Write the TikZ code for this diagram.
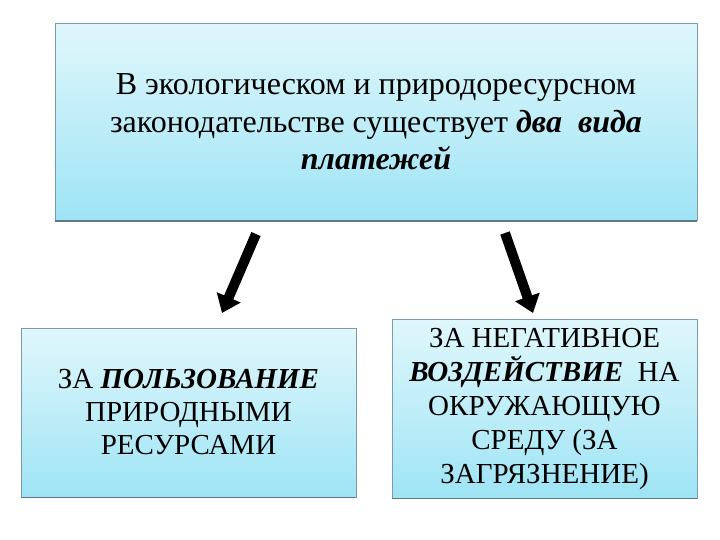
\documentclass[tikz,border=0pt]{standalone}
\usepackage{fontspec}
\setmainfont{Liberation Serif}
\usetikzlibrary{positioning,arrows.meta,calc}
\definecolor{boxtop}{RGB}{224,247,251}
\definecolor{boxbot}{RGB}{158,228,245}
\definecolor{boxline}{RGB}{125,155,168}
\definecolor{boxshade}{RGB}{95,120,130}

\begin{document}
\begin{tikzpicture}[x=1pt, y=-1pt,
  panel/.style={draw=boxline, line width=0.8pt, top color=boxtop, bottom color=boxbot, inner sep=0pt, align=center},
  arr/.style={-{Triangle[length=17pt, width=25pt]}, line width=10pt}
]
\useasboundingbox[fill=white] (0,0) rectangle (720,540);
% upper panel
\node[panel, minimum width=642pt, minimum height=197pt, font=\fontsize{32}{37.5}\selectfont] (law) at (376,122)
  {В экологическом и природоресурсном\\ законодательстве существует \textbf{\textit{два\ \ вида}}\\ \textbf{\textit{платежей}}};
\draw[boxshade, line width=1.6pt] (law.south west) -- (law.south east);
% lower panels
\node[panel, minimum width=335pt, minimum height=169pt, font=\fontsize{29}{33}\selectfont] (use) at (188.5,412.5)
  {ЗА \textbf{\textit{ПОЛЬЗОВАНИЕ}}\\ ПРИРОДНЫМИ\\ РЕСУРСАМИ};
\draw[boxshade, line width=1.6pt] (use.south west) -- (use.south east);
\node[panel, minimum width=305pt, minimum height=179pt, font=\fontsize{29}{34}\selectfont] (harm) at (544.5,408.5)
  {ЗА НЕГАТИВНОЕ\\ \textbf{\textit{ВОЗДЕЙСТВИЕ}}\ \ НА\\ ОКРУЖАЮЩУЮ\\ СРЕДУ (ЗА\\ ЗАГРЯЗНЕНИЕ)};
\draw[boxshade, line width=1.6pt] (harm.south west) -- (harm.south east);
% arrows
\coordinate (useTail) at (256,234);
\coordinate (useTip) at (222,313);
\coordinate (harmTail) at (505,233);
\coordinate (harmTip) at (533,313);
\draw[arr] (useTail) -- (useTip);
\draw[arr] (harmTail) -- (harmTip);
\end{tikzpicture}
\end{document}
